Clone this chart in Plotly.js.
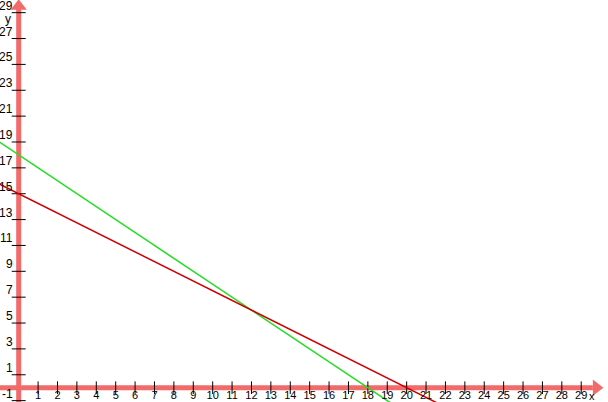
<!DOCTYPE html>
<html>
<head>
<meta charset="utf-8">
<script src="https://cdn.plot.ly/plotly-3.0.1.min.js"></script>
<style>
  html, body { margin: 0; padding: 0; background: #fff; }
  #graph { width: 608px; height: 402px; }
</style>
</head>
<body>
<div id="graph"></div>
<script>
// two straight lines, end points
var redX = [-1, 22];
var redY = [15.75, -1.5];
var greenX = [-1, 20];
var greenY = [19, -2];

// tick values and labels
var xTicks = [1, 2, 3, 4, 5, 6, 7, 8, 9, 10, 11, 12, 13, 14, 15, 16, 17, 18, 19, 20,
              21, 22, 23, 24, 25, 26, 27, 28, 29];
var yTicks = [-1, 1, 3, 5, 7, 9, 11, 13, 15, 17, 19, 21, 23, 25, 27, 29];
var xLabels = xTicks.map(String);
var yLabels = yTicks.map(String);

var xRange = [-0.964, 30.38];
var yRange = [-1.106, 29.98];

var axisColor = "#f26b6b";

function zeros(a) {
  return a.map(function () { return 0; });
}

var traces = [
  // x axis line
  { x: [xRange[0], 29.6], y: [0, 0], mode: "lines", type: "scatter",
    line: { color: axisColor, width: 5 }, hoverinfo: "skip" },
  // y axis line
  { x: [0, 0], y: [yRange[0], 29.3], mode: "lines", type: "scatter",
    line: { color: axisColor, width: 5 }, hoverinfo: "skip" },
  // arrow heads
  { x: [29.78], y: [0], mode: "markers", type: "scatter", cliponaxis: false,
    marker: { symbol: "triangle-right", size: 14, color: axisColor }, hoverinfo: "skip" },
  { x: [0], y: [29.5], mode: "markers", type: "scatter", cliponaxis: false,
    marker: { symbol: "triangle-up", size: 14, color: axisColor }, hoverinfo: "skip" },
  // tick marks
  { x: xTicks, y: zeros(xTicks), mode: "markers", type: "scatter",
    marker: { symbol: "line-ns-open", size: 9, color: "#000", line: { color: "#000", width: 1 } },
    hoverinfo: "skip" },
  { x: zeros(yTicks), y: yTicks, mode: "markers", type: "scatter",
    marker: { symbol: "line-ew-open", size: 10, color: "#000", line: { color: "#000", width: 1 } },
    hoverinfo: "skip" },
  // the data lines
  { x: greenX, y: greenY, mode: "lines", type: "scatter",
    line: { color: "#22dd22", width: 1.5 } },
  { x: redX, y: redY, mode: "lines", type: "scatter",
    line: { color: "#cc0000", width: 1.5 } }
];

var xFont = { family: "Liberation Sans, Arial, sans-serif", size: 11, color: "#000" };
var yFont = { family: "Liberation Sans, Arial, sans-serif", size: 12, color: "#000" };

// y labels sit just above their tick, left of the axis
var yAnnots = yTicks.map(function (v, i) {
  return { x: 0, y: v, xref: "x", yref: "y", text: yLabels[i], showarrow: false,
    xanchor: "right", yanchor: "bottom", xshift: -4, yshift: -2, font: yFont };
});

var layout = {
  width: 608,
  height: 402,
  margin: { l: 0, r: 0, t: 0, b: 0 },
  paper_bgcolor: "#fff",
  plot_bgcolor: "#fff",
  showlegend: false,
  hovermode: false,
  xaxis: {
    range: xRange,
    anchor: "free",
    position: (0 - yRange[0]) / (yRange[1] - yRange[0]),
    showgrid: false, zeroline: false, showline: false, ticks: "",
    tickmode: "array", tickvals: xTicks, ticktext: xLabels,
    tickfont: xFont, ticklabelstandoff: -1
  },
  yaxis: {
    range: yRange,
    showgrid: false, zeroline: false, showline: false, ticks: "",
    showticklabels: false
  },
  annotations: yAnnots.concat([
    { x: 0, y: 28.5, xref: "x", yref: "y", text: "y", showarrow: false,
      xanchor: "right", xshift: -6, font: yFont },
    { x: 29.3, y: 0, xref: "x", yref: "y", text: "x", showarrow: false,
      xanchor: "left", yanchor: "top", yshift: 0, font: xFont }
  ])
};

Plotly.newPlot("graph", traces, layout, { staticPlot: true });
</script>
</body>
</html>
